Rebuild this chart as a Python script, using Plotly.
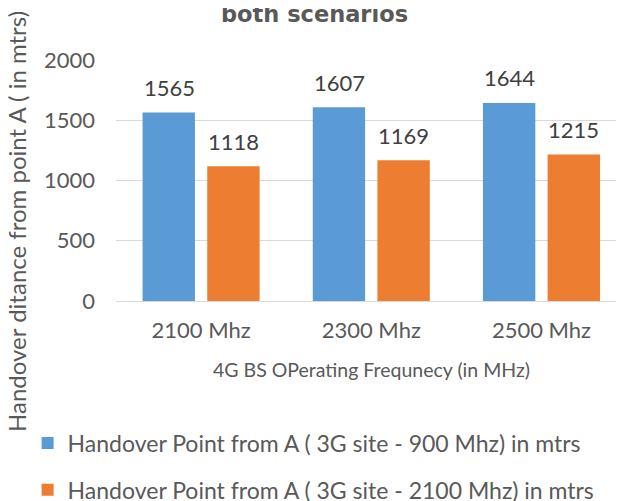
import plotly.graph_objects as go

categories = ["2100 Mhz", "2300 Mhz", "2500 Mhz"]
series_900 = [1565, 1607, 1644]
series_2100 = [1118, 1169, 1215]
name_900 = "Handover Point from A ( 3G site - 900 Mhz) in mtrs"
name_2100 = "Handover Point from A ( 3G site - 2100 Mhz) in mtrs"
y_ticks = [0, 500, 1000, 1500, 2000]

FONT = "Lato"
TXT = "#595959"
BLUE = "#5b9bd5"
ORANGE = "#ed7d31"

fig = go.Figure()
fig.add_trace(go.Bar(x=categories, y=series_900, name=name_900,
                     marker=dict(color=BLUE, line=dict(width=0)),
                     legendgroup="a"))
fig.add_trace(go.Bar(x=categories, y=series_2100, name=name_2100,
                     marker=dict(color=ORANGE, line=dict(width=0)),
                     legendgroup="b"))

annotations = []
for vals, shift in ((series_900, -32), (series_2100, 32)):
    for c, v in zip(categories, vals):
        annotations.append(dict(x=c, y=v, xref="x", yref="y", text=str(v),
                                showarrow=False, xshift=shift, yshift=25,
                                yanchor="middle",
                                font=dict(family=FONT, size=22, color="#404040")))

annotations.append(dict(x=0.39, y=1.19, xref="paper", yref="paper",
                        text="<b>both scenarios</b>", showarrow=False,
                        yanchor="middle",
                        font=dict(family="DejaVu Sans", size=22.5, color=TXT)))
annotations.append(dict(x=0.502, y=-0.286, xref="paper", yref="paper",
                        text="4G BS OPerating Frequnecy (in MHz)", showarrow=False,
                        yanchor="middle",
                        font=dict(family=FONT, size=19.5, color=TXT)))
annotations.append(dict(x=-0.195, y=0.332, xref="paper", yref="paper",
                        text="Handover ditance from point A ( in mtrs)", showarrow=False,
                        textangle=-90, xanchor="center", yanchor="middle",
                        font=dict(family=FONT, size=24, color=TXT)))

fig.update_layout(
    width=616, height=493,
    margin=dict(l=108, r=0, t=52, b=200, autoexpand=False),
    paper_bgcolor="white", plot_bgcolor="white",
    barmode="group", bargap=0.24, bargroupgap=0.19,
    font=dict(family=FONT, size=22, color=TXT),
    showlegend=True,
    legend=dict(x=-0.174, y=-0.50, xanchor="left", yanchor="top",
                orientation="v", traceorder="grouped", tracegroupgap=14,
                font=dict(family=FONT, size=23, color=TXT),
                bgcolor="rgba(0,0,0,0)"),
    annotations=annotations,
)
fig.update_xaxes(type="category", range=[-0.5, 2.485], showgrid=False,
                 showline=False, zeroline=False, ticks="",
                 tickfont=dict(family=FONT, size=22, color=TXT),
                 ticklabelstandoff=14)
fig.update_yaxes(range=[0, 2000], tickvals=y_ticks, showgrid=True,
                 gridcolor="#d9d9d9", gridwidth=1, zeroline=True,
                 zerolinecolor="#d9d9d9", zerolinewidth=1, showline=False,
                 ticks="", tickfont=dict(family=FONT, size=22, color=TXT),
                 ticklabelstandoff=20)

fig.write_html("out.html")
